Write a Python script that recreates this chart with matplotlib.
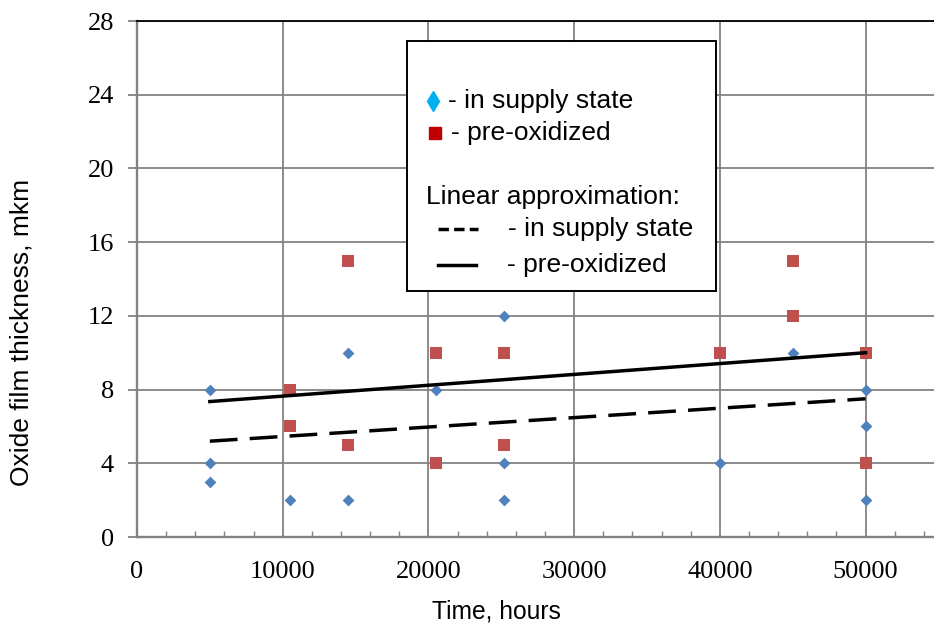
import matplotlib
matplotlib.use("Agg")
import matplotlib.pyplot as plt
from matplotlib.lines import Line2D
from matplotlib.patches import Rectangle

# ---- data ----
supply_x = [5000, 5000, 5000, 10500, 14500, 14500, 20500, 25200, 25200, 25200,
            40000, 45000, 50000, 50000, 50000]
supply_y = [8, 4, 3, 2, 10, 2, 8, 12, 4, 2, 4, 10, 8, 6, 2]
preox_x = [10500, 10500, 14500, 14500, 20500, 20500, 25200, 25200, 40000,
           45000, 45000, 50000, 50000]
preox_y = [8, 6, 15, 5, 10, 4, 10, 5, 10, 15, 12, 10, 4]
trend_x = [5000, 50000]
trend_supply = [5.2, 7.5]
trend_preox = [7.35, 10.0]
x_ticks = [0, 10000, 20000, 30000, 40000, 50000]
y_ticks = [0, 4, 8, 12, 16, 20, 24, 28]

W, H = 934, 626
fig = plt.figure(figsize=(W / 100, H / 100), dpi=100)

def fx(px):
    return px / W

def fy(py):
    return 1 - py / H

ax_l, ax_r, ax_t, ax_b = 137, 934, 21, 537
ax = fig.add_axes([fx(ax_l), fy(ax_b), fx(ax_r) - fx(ax_l), fy(ax_t) - fy(ax_b)])
ax.set_xlim(0, 54700)
ax.set_ylim(0, 28)

grid_c = "#828282"
ax.set_xticks(x_ticks)
ax.set_yticks(y_ticks)
ax.set_xticks(range(0, 54001, 2000), minor=True)
ax.grid(True, which="major", color=grid_c, lw=1.3, zorder=0)
ax.set_axisbelow(True)

serif = ["Liberation Serif", "DejaVu Serif"]
sans = ["Liberation Sans", "DejaVu Sans"]
ax.set_xticklabels([str(v) for v in x_ticks], family=serif, fontsize=19)
ax.set_yticklabels([str(v) for v in y_ticks], family=serif, fontsize=19)
ax.tick_params(axis="x", which="major", length=0, pad=17)
ax.tick_params(axis="x", which="minor", direction="in", length=4, width=1, color=grid_c)
ax.tick_params(axis="y", which="major", direction="out", length=6.5, width=1.3,
               color=grid_c, pad=10)

for s in ["left", "bottom"]:
    ax.spines[s].set_color(grid_c)
    ax.spines[s].set_linewidth(1.7)
ax.spines["top"].set_color("black")
ax.spines["top"].set_linewidth(1.3)
ax.spines["right"].set_visible(False)

ax.scatter(supply_x, supply_y, marker="D", s=6.0 ** 2, color="#4F81BD",
           linewidths=0, zorder=3, clip_on=False)
ax.scatter(preox_x, preox_y, marker="s", s=8.6 ** 2, color="#C0504D",
           linewidths=0, zorder=3, clip_on=False)
ax.plot(trend_x, trend_supply, color="black", lw=2.5, dashes=(8, 3.5), zorder=4)
ax.plot(trend_x, trend_preox, color="black", lw=2.5, zorder=4)

fig.text(fx(22), fy(332), "Oxide film thickness, mkm", rotation=90, ha="center",
         va="center", family=sans, fontsize=19)
fig.text(fx(496), fy(612), "Time, hours", ha="center", va="center",
         family=sans, fontsize=17.7)

# ---- legend box ----
lx0, ly0, lx1, ly1 = 407, 41, 716, 291
fig.patches.append(Rectangle((fx(lx0), fy(ly1)), fx(lx1) - fx(lx0), fy(ly0) - fy(ly1),
                             transform=fig.transFigure, facecolor="white",
                             edgecolor="black", lw=1.4, zorder=5))
lfs = 19
fig.lines.append(Line2D([fx(433)], [fy(101)], marker="d", markersize=10,
                        color="#00B0F0", lw=0, transform=fig.transFigure, zorder=6))
fig.lines.append(Line2D([fx(435)], [fy(133)], marker="s", markersize=8.5,
                        color="#C00000", lw=0, transform=fig.transFigure, zorder=6))
fig.text(fx(448), fy(101), "- in supply state", ha="left", va="center",
         family=sans, fontsize=lfs, zorder=6)
fig.text(fx(451), fy(133), "- pre-oxidized", ha="left", va="center",
         family=sans, fontsize=lfs, zorder=6)
fig.text(fx(426), fy(197), "Linear approximation:", ha="left", va="center",
         family=sans, fontsize=lfs, zorder=6)
fig.lines.append(Line2D([fx(438), fx(478)], [fy(229), fy(229)], color="black",
                        lw=2.5, dashes=(3, 1.5), transform=fig.transFigure, zorder=6))
fig.text(fx(508), fy(229), "- in supply state", ha="left", va="center",
         family=sans, fontsize=lfs, zorder=6)
fig.lines.append(Line2D([fx(438), fx(476)], [fy(265), fy(265)], color="black",
                        lw=2.5, transform=fig.transFigure, zorder=6))
fig.text(fx(507), fy(265), "- pre-oxidized", ha="left", va="center",
         family=sans, fontsize=lfs, zorder=6)

fig.savefig("out.png", dpi=100)
